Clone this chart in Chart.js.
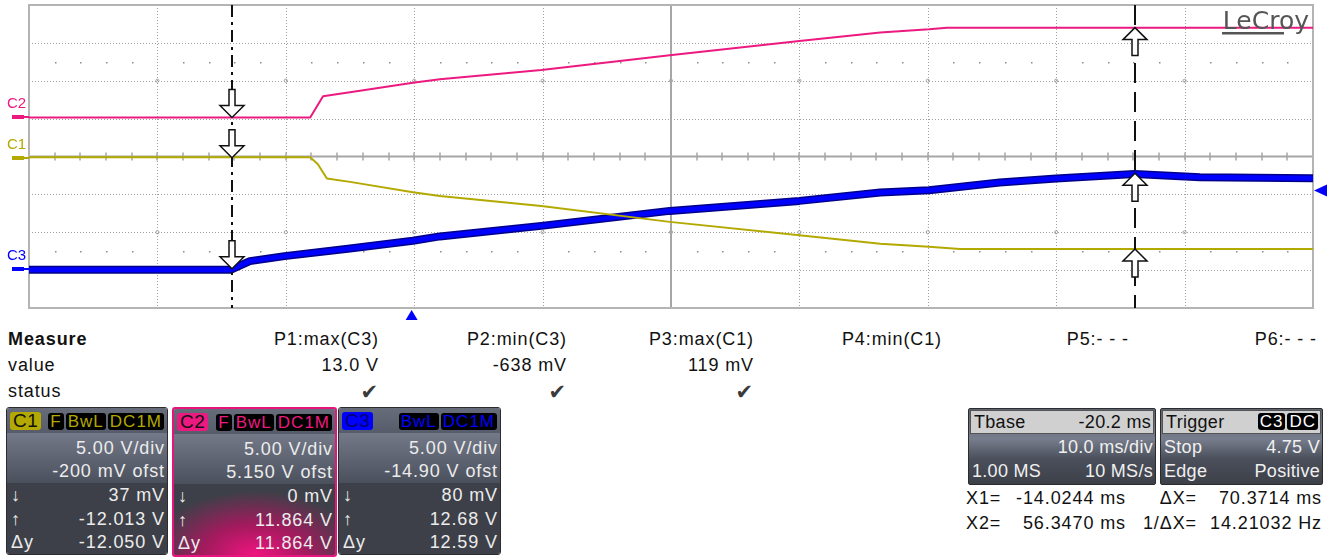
<!DOCTYPE html>
<html>
<head>
<meta charset="utf-8">
<script src="https://cdn.jsdelivr.net/npm/chart.js@4.4.1/dist/chart.umd.min.js"></script>
<style>
body { margin: 0; width: 1336px; height: 557px; overflow: hidden; position: relative; background: #fff;
       font-family: "Liberation Sans", Arial, sans-serif; }
#scope { position: absolute; left: 0; top: 0; }
.t { position: absolute; font-size: 18px; line-height: 20px; letter-spacing: 0.9px; color: #111; white-space: nowrap; }
.r { text-align: right; }
.chk { position: absolute; font-family: "DejaVu Sans", sans-serif; font-size: 21px; line-height: 20px; color: #3a3a3a; }
.box { position: absolute; top: 407px; height: 146px; border: 1px solid #2c2c2c; border-radius: 3px; overflow: hidden; }
.box .hd { position: absolute; left: 0; right: 0; top: 0; height: 25px; background: linear-gradient(#666c7a, #565c6a); }
.box .mid { position: absolute; left: 0; right: 0; top: 25px; height: 50px; background: linear-gradient(#737988, #4b505d); }
.box .low { position: absolute; left: 0; right: 0; top: 75px; bottom: 0; background: #3d4048; }
.box .row { position: absolute; left: 4px; right: 2px; font-size: 18px; line-height: 22px; letter-spacing: 0.9px; color: #ececec; white-space: nowrap; }
.box .row span { position: absolute; right: 0; }
.badge { position: absolute; top: 4px; height: 18px; line-height: 18px; font-size: 19px; padding: 0 3px; border-radius: 3px; letter-spacing: 0.5px; }
.tags { position: absolute; right: 3px; top: 5px; display: flex; gap: 2px; }
.tag { height: 17px; line-height: 17px; font-size: 17px; padding: 0 2px; background: #000; border-radius: 3px; letter-spacing: 1px; }
.info { position: absolute; top: 408px; height: 75px; border: 1px solid #2c2c2c; border-radius: 2px; overflow: hidden;
        background: linear-gradient(#5d6372 0px, #777d8c 30px, #4a4f5b 50px, #3d4048 75px); }
.info .hd { position: absolute; left: 1px; right: 1px; top: 1px; height: 22px; background: #d0d0d0; border: 1px solid #555; }
.info .row { position: absolute; left: 3px; right: 2px; font-size: 18px; line-height: 22px; color: #f0f0f0; white-space: nowrap; letter-spacing: 0.3px; }
.info .hd .row { color: #111; top: 0; }
.info .row span { position: absolute; right: 0; }
</style>
</head>
<body>
<canvas id="scope" width="1336" height="322"></canvas>
<script>
// timebase and vertical settings
const timePerDiv = 10;          // ms/div
const triggerDelay = -20.2;     // ms
const sampleInfo = ['1.00 MS', '10 MS/s'];
const channelNames = ['C1', 'C2', 'C3'];
const channelColors = ['#b3a900', '#ec1a80', '#0000ff'];
const voltsPerDiv = [5, 5, 5];
const offsets = [-0.2, 5.15, -14.9];
const channelTags = [['F', 'BwL', 'DC1M'], ['F', 'BwL', 'DC1M'], ['BwL', 'DC1M']];

// traces (time in ms, volts)
const c1Time  = [-29.8, -7.9, -7.3, -6.6, -4.8, 0.1, 2.2, 10.1, 20.1, 30.2, 36.5, 40.3, 42.7, 70.2];
const c1Volts = [0.1, 0.1, -0.82, -2.70, -3.15, -4.51, -5.00, -6.32, -8.43, -10.19, -11.31, -11.73, -12.01, -12.01];
const c2Time  = [-29.8, -7.9, -6.9, -4.8, 0.1, 2.2, 10.1, 20.1, 30.2, 36.5, 40.3, 41.7, 70.2];
const c2Volts = [0, 0, 2.80, 3.33, 4.59, 5.05, 6.27, 8.21, 10.10, 11.21, 11.64, 11.86, 11.86];
const c3Time  = [-29.8, -14.1, -12.6, -9.9, -4.8, 0.1, 2.2, 10.1, 20.1, 30.2, 36.5, 40.3, 45.8, 50.2, 53.6, 56.3, 61.4, 70.2];
const c3Volts = [-0.05, -0.05, 1.09, 1.75, 2.76, 3.77, 4.35, 5.74, 7.72, 9.04, 10.15, 10.45, 11.47, 12.0, 12.34, 12.6, 12.17, 12.04];

// cursors
const cursorTimes = [-14.0244, 56.3470];
const cursorLow   = [0.037, 0, 0.080];      // at X1
const cursorHigh  = [-12.013, 11.864, 12.68]; // at X2
const cursorDelta = [-12.050, 11.864, 12.59];
const readoutDigits = [3, 3, 2];

// measurements
const measureNames  = ['P1:max(C3)', 'P2:min(C3)', 'P3:max(C1)', 'P4:min(C1)', 'P5:- - -', 'P6:- - -'];
const measureValues = ['13.0 V', '-638 mV', '119 mV', '', '', ''];
const measureOk     = [true, true, true, false, false, false];

// trigger
const triggerSource = ['C3', 'DC'];
const triggerMode = 'Stop';
const triggerLevel = 4.75;
const triggerSlope = 'Positive';

const xMin = -triggerDelay - 5 * timePerDiv;
const xMax = -triggerDelay + 5 * timePerDiv;

function pts(t, v) { return t.map((x, i) => ({ x: x, y: v[i] })); }

function yAxis(i) {
    return { type: 'linear', display: false,
             min: -4 * voltsPerDiv[i] - offsets[i], max: 4 * voltsPerDiv[i] - offsets[i] };
}

const scopeGrid = {
    id: 'scopeGrid',
    beforeDatasetsDraw(chart) {
        const { ctx, chartArea: a } = chart;
        const dx = (a.right - a.left) / 10, dy = (a.bottom - a.top) / 8;
        const cx = a.left + 5 * dx, cy = a.top + 4 * dy;
        ctx.save();
        ctx.strokeStyle = '#a0a0a0';
        ctx.lineWidth = 1;
        ctx.setLineDash([1, 2]);
        for (let i = 1; i < 10; i++) {
            if (i === 5) continue;
            const x = Math.round(a.left + i * dx) + 0.5;
            ctx.beginPath(); ctx.moveTo(x, a.top); ctx.lineTo(x, a.bottom); ctx.stroke();
        }
        for (let j = 1; j < 8; j++) {
            if (j === 4) continue;
            const y = Math.round(a.top + j * dy) + 0.5;
            ctx.beginPath(); ctx.moveTo(a.left, y); ctx.lineTo(a.right, y); ctx.stroke();
        }
        ctx.setLineDash([]);
        // little rings where the grid crosses +-2 div
        for (let i = 1; i < 10; i++) {
            for (const j of [2, 6]) {
                ctx.beginPath();
                ctx.arc(a.left + i * dx, a.top + j * dy, 1.6, 0, Math.PI * 2);
                ctx.stroke();
            }
        }
        // dot rows at +-2.5 div
        ctx.fillStyle = '#8c8c8c';
        for (const yy of [cy - 2.5 * dy, cy + 2.5 * dy]) {
            for (let k = 1; k < 50; k++) {
                if (k % 5 === 0) continue;
                ctx.fillRect(Math.round(a.left + k * dx / 5), Math.round(yy), 1.5, 1.5);
            }
        }
        // center cross with ticks
        ctx.strokeStyle = '#a6a6a6';
        ctx.lineWidth = 2;
        ctx.beginPath();
        ctx.moveTo(a.left, cy); ctx.lineTo(a.right, cy);
        ctx.moveTo(cx, a.top); ctx.lineTo(cx, a.bottom);
        ctx.stroke();
        ctx.lineWidth = 1.5;
        ctx.beginPath();
        for (let k = 1; k < 50; k++) {
            const x = Math.round(a.left + k * dx / 5);
            ctx.moveTo(x, cy - 4); ctx.lineTo(x, cy + 4);
        }
        ctx.stroke();
        // frame
        ctx.strokeStyle = '#b4b4b4';
        ctx.lineWidth = 2;
        ctx.strokeRect(a.left, a.top, a.right - a.left, a.bottom - a.top);
        ctx.restore();
    }
};

function arrow(ctx, x, y, dir) {
    // dir = 1 points down (tip at y), dir = -1 points up
    const h = 12, w = 12, s = 3, len = 28;
    ctx.beginPath();
    ctx.moveTo(x, y);
    ctx.lineTo(x - w, y - dir * h);
    ctx.lineTo(x - s, y - dir * h);
    ctx.lineTo(x - s, y - dir * len);
    ctx.lineTo(x + s, y - dir * len);
    ctx.lineTo(x + s, y - dir * h);
    ctx.lineTo(x + w, y - dir * h);
    ctx.closePath();
    ctx.fillStyle = '#fff';
    ctx.fill();
    ctx.strokeStyle = '#111';
    ctx.lineWidth = 1.5;
    ctx.stroke();
}

const scopeCursors = {
    id: 'scopeCursors',
    afterDatasetsDraw(chart) {
        const { ctx, chartArea: a, scales } = chart;
        const yIds = ['y1', 'y2', 'y3'];
        ctx.save();
        ctx.strokeStyle = '#111';
        ctx.lineWidth = 2;
        const dashes = [[12, 5, 3, 5], [20, 9]];
        cursorTimes.forEach((t, k) => {
            const x = Math.round(scales.x.getPixelForValue(t));
            ctx.setLineDash(dashes[k]);
            ctx.beginPath(); ctx.moveTo(x, a.top); ctx.lineTo(x, a.bottom); ctx.stroke();
        });
        ctx.setLineDash([]);
        const x1 = Math.round(scales.x.getPixelForValue(cursorTimes[0]));
        const x2 = Math.round(scales.x.getPixelForValue(cursorTimes[1]));
        yIds.forEach((id, i) => {
            arrow(ctx, x1, scales[id].getPixelForValue(cursorLow[i]), 1);
            arrow(ctx, x2, scales[id].getPixelForValue(cursorHigh[i]), -1);
        });
        ctx.restore();
    },
    afterDraw(chart) {
        const { ctx, chartArea: a, scales } = chart;
        ctx.save();
        // channel ground markers on the left
        ['y1', 'y2', 'y3'].forEach((id, i) => {
            const y = Math.round(scales[id].getPixelForValue(0));
            ctx.fillStyle = channelColors[i];
            ctx.fillRect(12, y - 2, 12, 4);
            ctx.fillRect(12, y - 1, a.left - 12, 2);
            ctx.font = '15px "Liberation Sans", Arial, sans-serif';
            ctx.textBaseline = 'middle';
            ctx.fillText(channelNames[i], 7, y - 13);
        });
        // trigger position below the grid
        const tx = scales.x.getPixelForValue(0);
        ctx.fillStyle = '#0000ff';
        ctx.beginPath();
        ctx.moveTo(tx, a.bottom + 2); ctx.lineTo(tx - 6, a.bottom + 12); ctx.lineTo(tx + 6, a.bottom + 12);
        ctx.closePath(); ctx.fill();
        // level marker on the right
        const ly = scales.y3.getPixelForValue(10.4);
        ctx.beginPath();
        ctx.moveTo(a.right + 1, ly); ctx.lineTo(a.right + 14, ly - 6); ctx.lineTo(a.right + 14, ly + 6);
        ctx.closePath(); ctx.fill();
        // logo
        ctx.fillStyle = '#555';
        ctx.font = '25px "DejaVu Sans", sans-serif';
        ctx.textAlign = 'right';
        ctx.textBaseline = 'alphabetic';
        ctx.fillText('LeCroy', a.right - 4, a.top + 24);
        ctx.fillRect(a.right - 91, a.top + 27, 62, 2.5);
        ctx.restore();
    }
};

const ctx = document.getElementById('scope').getContext('2d');
new Chart(ctx, {
    type: 'line',
    data: {
        datasets: [
            { label: 'C1', data: pts(c1Time, c1Volts), yAxisID: 'y1', borderColor: channelColors[0],
              borderWidth: 2, order: 0 },
            { label: 'C2', data: pts(c2Time, c2Volts), yAxisID: 'y2', borderColor: channelColors[1],
              borderWidth: 2, order: 1 },
            { label: 'C3', data: pts(c3Time, c3Volts), yAxisID: 'y3', borderColor: channelColors[2],
              borderWidth: 5, order: 2 },
            { label: 'C3 noise', data: pts(c3Time, c3Volts), yAxisID: 'y3', borderColor: '#00008a',
              borderWidth: 8, order: 3 }
        ]
    },
    options: {
        responsive: false,
        animation: false,
        devicePixelRatio: 1,
        elements: { point: { radius: 0 }, line: { tension: 0, borderJoinStyle: 'round' } },
        layout: { padding: { left: 29, top: 5, right: 23, bottom: 14 } },
        scales: {
            x: { type: 'linear', display: false, min: xMin, max: xMax },
            y1: yAxis(0),
            y2: yAxis(1),
            y3: yAxis(2)
        },
        plugins: { legend: { display: false }, tooltip: { enabled: false } }
    },
    plugins: [scopeGrid, scopeCursors]
});

// ---- lower panel ----
function add(html, cls, style) {
    const d = document.createElement('div');
    d.className = cls;
    d.style.cssText = style;
    d.innerHTML = html;
    document.body.appendChild(d);
    return d;
}

function fmtVolts(v, digits) {
    if (Math.abs(v) < 1) return Math.round(v * 1000) + ' mV';
    return v.toFixed(digits) + ' V';
}

add('<b>Measure</b>', 't', 'left:8px;top:329px;');
add('value', 't', 'left:8px;top:355px;');
add('status', 't', 'left:8px;top:381px;');
measureNames.forEach((name, i) => {
    const right = 1336 - Math.round(379 + 187.6 * i);
    add(name, 't r', 'right:' + right + 'px;top:329px;');
    if (measureValues[i]) add(measureValues[i], 't r', 'right:' + right + 'px;top:355px;');
    if (measureOk[i]) add('✔', 'chk', 'right:' + (right + 1) + 'px;top:382px;');
});

const boxLeft = [6, 172, 338];
const boxWidth = [160, 161, 161];
channelNames.forEach((name, i) => {
    const box = add('', 'box', 'left:' + boxLeft[i] + 'px;width:' + boxWidth[i] + 'px;');
    const col = channelColors[i];
    let low = '<div class="low"></div>';
    if (i === 1) {
        box.style.border = '2px solid #e8147e';
        low = '<div class="low" style="background:radial-gradient(ellipse 70% 95% at 50% 100%, #f0147f 0%, #a31a5e 45%, #3d4048 95%);"></div>';
    }
    const tags = channelTags[i].map(t => '<span class="tag" style="color:' + col + '">' + t + '</span>').join('');
    const badgeText = i === 2 ? '#000070' : '#111';
    const ofs = Math.abs(offsets[i]) < 1 ? Math.round(offsets[i] * 1000) + ' mV ofst'
                                          : offsets[i].toPrecision(4) + ' V ofst';
    box.innerHTML =
        '<div class="hd"></div><div class="mid"></div>' + low +
        '<div class="badge" style="left:3px;background:' + col + ';color:' + badgeText + '">' + name + '</div>' +
        '<div class="tags">' + tags + '</div>' +
        '<div class="row" style="top:29px"><span>' + voltsPerDiv[i].toFixed(2) + ' V/div</span></div>' +
        '<div class="row" style="top:52px"><span>' + ofs + '</span></div>' +
        '<div class="row" style="top:76px">↓<span>' + fmtVolts(cursorLow[i], readoutDigits[i]) + '</span></div>' +
        '<div class="row" style="top:100px">↑<span>' + fmtVolts(cursorHigh[i], readoutDigits[i]) + '</span></div>' +
        '<div class="row" style="top:123px">Δy<span>' + fmtVolts(cursorDelta[i], readoutDigits[i]) + '</span></div>';
});

// timebase
add('<div class="hd"><div class="row">Tbase<span>' + triggerDelay.toFixed(1) + ' ms</span></div></div>' +
    '<div class="row" style="top:27px"><span>' + timePerDiv.toFixed(1) + ' ms/div</span></div>' +
    '<div class="row" style="top:51px">' + sampleInfo[0] + '<span>' + sampleInfo[1] + '</span></div>',
    'info', 'left:968px;width:186px;');

// trigger
const trigTags = triggerSource.map(t => '<span class="tag" style="color:#fff">' + t + '</span>').join('');
add('<div class="hd"><div class="row">Trigger</div><div class="tags" style="top:2px;right:2px">' + trigTags + '</div></div>' +
    '<div class="row" style="top:27px">' + triggerMode + '<span>' + triggerLevel.toFixed(2) + ' V</span></div>' +
    '<div class="row" style="top:51px">Edge<span>' + triggerSlope + '</span></div>',
    'info', 'left:1160px;width:161px;');

// cursor readouts
const dX = cursorTimes[1] - cursorTimes[0];
add('X1=', 't', 'left:966px;top:488px;');
add(cursorTimes[0].toFixed(4) + ' ms', 't r', 'right:' + (1336 - 1126) + 'px;top:488px;');
add('ΔX=', 't r', 'right:' + (1336 - 1197) + 'px;top:488px;');
add(dX.toFixed(4) + ' ms', 't r', 'right:14px;top:488px;');
add('X2=', 't', 'left:966px;top:513px;');
add(cursorTimes[1].toFixed(4) + ' ms', 't r', 'right:' + (1336 - 1126) + 'px;top:513px;');
add('1/ΔX=', 't r', 'right:' + (1336 - 1197) + 'px;top:513px;');
add((1000 / dX).toFixed(5) + ' Hz', 't r', 'right:14px;top:513px;');
</script>
</body>
</html>
